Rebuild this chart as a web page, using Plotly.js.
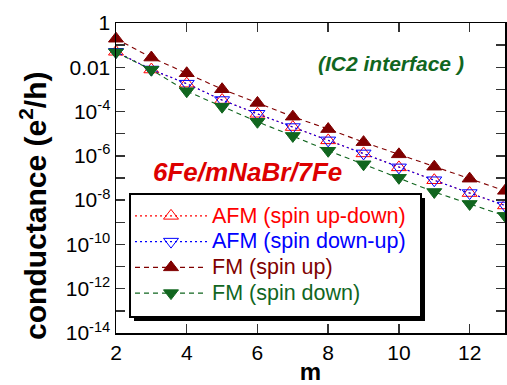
<!DOCTYPE html>
<html><head><meta charset="utf-8">
<script src="https://cdn.plot.ly/plotly-3.0.1.min.js"></script>
<style>html,body{margin:0;padding:0;background:#fff}#chart{width:507px;height:385px}</style>
</head><body><div id="chart"></div>
<script>
// number of NaBr layers
const m = [2, 3, 4, 5, 6, 7, 8, 9, 10, 11, 12, 13];
// conductance (e^2/h)
const afmUpDown = [5.01e-2, 7.94e-3, 1.82e-3, 3.31e-4, 7.94e-5, 2.00e-5, 5.01e-6, 1.29e-6, 3.02e-7, 7.94e-8, 2.09e-8, 5.75e-9];
const afmDownUp = [5.01e-2, 7.94e-3, 1.82e-3, 3.31e-4, 7.94e-5, 2.00e-5, 5.01e-6, 1.29e-6, 3.02e-7, 7.94e-8, 2.09e-8, 5.75e-9];
const fmUp      = [1.95e-1, 2.75e-2, 5.37e-3, 1.02e-3, 2.45e-4, 5.89e-5, 1.62e-5, 4.17e-6, 1.17e-6, 3.24e-7, 9.33e-8, 2.63e-8];
const fmDown    = [4.79e-2, 7.76e-3, 8.32e-4, 1.66e-4, 3.47e-5, 7.94e-6, 1.70e-6, 4.17e-7, 1.02e-7, 2.34e-8, 6.76e-9, 1.95e-9];

const seriesNames = ['AFM (spin up-down)', 'AFM (spin down-up)', 'FM (spin up)', 'FM (spin down)'];
const yTickVals = [1, 1e-1, 1e-2, 1e-3, 1e-4, 1e-5, 1e-6, 1e-7, 1e-8, 1e-9, 1e-10, 1e-11, 1e-12, 1e-13, 1e-14];
const yTickText = ['1', '', '0.01', '', '10<sup>-4</sup>', '', '10<sup>-6</sup>', '', '10<sup>-8</sup>', '', '10<sup>-10</sup>', '', '10<sup>-12</sup>', '', '10<sup>-14</sup>'];
const xTickVals = [2, 4, 6, 8, 10, 12];

const RED = '#ff0000', BLUE = '#0000ff', DRED = '#800000', GREEN = '#11661f';
const FONT = 'Liberation Sans, Arial, Helvetica, sans-serif';

function tr(y, name, color, symbol, dash) {
  return {
    x: m, y: y, type: 'scatter', mode: 'lines+markers', cliponaxis: false,
    name: '<span style="color:' + color + ';font-size:21.5px">' + name + '</span>',
    line: {color: color, width: 1.1, dash: dash},
    marker: {symbol: symbol, size: 13, color: color, line: {color: color, width: 1}}
  };
}

const data = [
  tr(afmUpDown, seriesNames[0], RED, 'triangle-up-open', '2px,3px'),
  tr(afmDownUp, seriesNames[1], BLUE, 'triangle-down-open', '2px,3px'),
  tr(fmUp, seriesNames[2], DRED, 'triangle-up', '5px,4px'),
  tr(fmDown, seriesNames[3], GREEN, 'triangle-down', '5px,4px')
];

const axisCommon = {
  showline: true, linecolor: '#000', linewidth: 1.5, mirror: 'ticks',
  ticks: 'inside', ticklen: 9, tickwidth: 1.5, tickcolor: '#333',
  showgrid: false, zeroline: false,
  tickfont: {family: FONT, size: 21, color: '#000'}
};

const layout = {
  width: 507, height: 385,
  margin: {l: 116, r: 2, t: 23, b: 52},
  paper_bgcolor: '#fff', plot_bgcolor: '#fff',
  font: {family: FONT},
  showlegend: true,
  xaxis: Object.assign({}, axisCommon, {
    range: [2, 13], tickmode: 'array', tickvals: xTickVals,
    title: {text: '<b>m</b>', font: {family: FONT, size: 24, color: '#000'}, standoff: 0}
  }),
  yaxis: Object.assign({}, axisCommon, {
    type: 'log', range: [-14, 0], tickmode: 'array', tickvals: yTickVals, ticktext: yTickText
  }),
  legend: {
    x: 0.036, y: 0.4355, xanchor: 'left', yanchor: 'top',
    bgcolor: 'rgba(0,0,0,0)', borderwidth: 0,
    font: {family: FONT, size: 17.5}, itemwidth: 72, tracegroupgap: 0
  },
  annotations: [
    {text: '<b>conductance (e<sup>2</sup>/h)</b>', textangle: -90, xref: 'paper', yref: 'paper',
     x: -0.2134, y: 0.41, xanchor: 'center', yanchor: 'middle', showarrow: false,
     font: {family: FONT, size: 30, color: '#000'}},
    {text: '<b><i>(IC2 interface )</i></b>', xref: 'paper', yref: 'paper',
     x: 0.707, y: 0.868, xanchor: 'center', yanchor: 'middle', showarrow: false,
     font: {family: FONT, size: 21, color: GREEN}},
    {text: '<b><i>6Fe/mNaBr/7Fe</i></b>', xref: 'paper', yref: 'paper',
     x: 0.337, y: 0.519, xanchor: 'center', yanchor: 'middle', showarrow: false,
     font: {family: FONT, size: 26, color: '#dd0000'}}
  ]
};

Plotly.newPlot('chart', data, layout, {staticPlot: true, displayModeBar: false}).then(function (gd) {
  // legend frame and drop shadow, placed around the rendered legend
  var bg = gd.querySelector('.legend .bg');
  if (!bg) return;
  var r = bg.getBoundingClientRect(), c = gd.getBoundingClientRect();
  var s = gd._fullLayout._size, off = 4;
  var px2x = function (p) { return (p - s.l) / s.w; };
  var py2y = function (p) { return 1 - (p - s.t) / s.h; };
  var L = r.left - c.left, R = r.right - c.left + 10, T = r.top - c.top - 4, B = r.bottom - c.top + 6;
  return Plotly.relayout(gd, {shapes: [
    {type: 'rect', xref: 'paper', yref: 'paper',
     x0: px2x(L + off), x1: px2x(R + off), y0: py2y(B + off), y1: py2y(T + off),
     fillcolor: '#000', line: {width: 0}, layer: 'above'},
    {type: 'rect', xref: 'paper', yref: 'paper',
     x0: px2x(L), x1: px2x(R), y0: py2y(B), y1: py2y(T),
     fillcolor: '#fff', line: {width: 2, color: '#000'}, layer: 'above'}
  ]});
});
</script>
</body></html>
